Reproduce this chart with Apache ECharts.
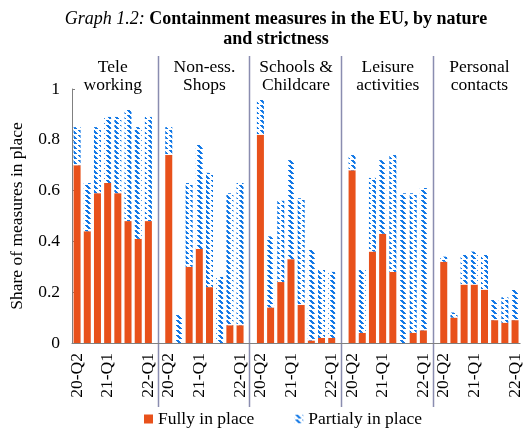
<!DOCTYPE html>
<html>
<head>
<meta charset="utf-8">
<script src="https://cdn.jsdelivr.net/npm/echarts@6/dist/echarts.min.js"></script>
<style>
html, body { margin: 0; padding: 0; background: #fff; }
#main { width: 524px; height: 428px; }
</style>
</head>
<body>
<div id="main"></div>
<script>
var groups = ['Tele\nworking', 'Non-ess.\nShops', 'Schools &\nChildcare', 'Leisure\nactivities', 'Personal\ncontacts'];
var quarters = ['20-Q2', '20-Q3', '20-Q4', '21-Q1', '21-Q2', '21-Q3', '21-Q4', '22-Q1'];
var shownTicks = ['20-Q2', '21-Q1', '22-Q1'];

// share of measures fully in place, per group
var fullyTele = [0.70, 0.44, 0.59, 0.63, 0.59, 0.48, 0.41, 0.48];
var fullyShops = [0.74, 0, 0.30, 0.37, 0.22, 0, 0.07, 0.07];
var fullySchools = [0.82, 0.14, 0.24, 0.33, 0.15, 0.01, 0.02, 0.02];
var fullyLeisure = [0.68, 0.04, 0.36, 0.43, 0.28, 0, 0.04, 0.05];
var fullyContacts = [0.32, 0.10, 0.23, 0.23, 0.21, 0.09, 0.08, 0.09];

// share partially in place (stacked on top)
var partTele = [0.15, 0.19, 0.26, 0.26, 0.30, 0.44, 0.44, 0.41];
var partShops = [0.11, 0.11, 0.33, 0.41, 0.45, 0.26, 0.52, 0.56];
var partSchools = [0.14, 0.28, 0.32, 0.39, 0.42, 0.36, 0.27, 0.26];
var partLeisure = [0.06, 0.25, 0.29, 0.29, 0.46, 0.59, 0.55, 0.56];
var partContacts = [0.02, 0.02, 0.12, 0.13, 0.14, 0.08, 0.10, 0.12];

var FONT = '"Liberation Serif", "Times New Roman", serif';
var ORANGE = '#E8511B';
var BLUE = '#1479E6';

function flatten(lists) {
    var out = [];
    for (var g = 0; g < lists.length; g++) {
        if (g > 0) out.push(null);
        for (var i = 0; i < lists[g].length; i++) out.push(lists[g][i]);
    }
    return out;
}

var cats = [];
var gapIdx = [];
var groupMid = [];
for (var g = 0; g < groups.length; g++) {
    if (g > 0) {
        gapIdx.push(cats.length);
        cats.push('');
    }
    groupMid.push(cats.length + 3.5);
    for (var q = 0; q < quarters.length; q++) cats.push(quarters[q]);
}

var fullyData = flatten([fullyTele, fullyShops, fullySchools, fullyLeisure, fullyContacts]);
var partData = flatten([partTele, partShops, partSchools, partLeisure, partContacts]);

// hatched tile for the "partially" bars, drawn pixel by pixel so it stays crisp
var tile = document.createElement('canvas');
tile.width = 7;
tile.height = 5;
var ctx = tile.getContext('2d');
ctx.fillStyle = '#fff';
ctx.fillRect(0, 0, 7, 5);
ctx.fillStyle = BLUE;
for (var r = 0; r < 4; r++) ctx.fillRect(1 + r, r, 3, 1);

var chart = echarts.init(document.getElementById('main'));
chart.setOption({
    animation: false,
    title: {
        text: '{i|Graph 1.2:} {b|Containment measures in the EU, by nature}\n{b|and strictness}',
        left: 271,
        top: 4,
        textAlign: 'center',
        textStyle: {
            fontFamily: FONT,
            fontWeight: 'normal',
            lineHeight: 20,
            rich: {
                i: { fontFamily: FONT, fontStyle: 'italic', fontWeight: 'normal', fontSize: 18, color: '#000', lineHeight: 20 },
                b: { fontFamily: FONT, fontWeight: 'bold', fontSize: 18, color: '#000', lineHeight: 20 }
            }
        }
    },
    legend: {
        left: 139,
        top: 405,
        itemWidth: 9,
        itemHeight: 9,
        itemGap: 40,
        icon: 'rect',
        textStyle: { fontFamily: FONT, fontSize: 17.5, color: '#000' },
        data: ['Fully in place', 'Partialy in place']
    },
    grid: { left: 70, right: 2, top: 89, bottom: 85 },
    xAxis: {
        type: 'category',
        data: cats,
        axisTick: { show: false },
        axisLine: { lineStyle: { color: '#808080', width: 1 } },
        axisLabel: {
            rotate: 90,
            interval: 0,
            margin: 10,
            fontFamily: FONT,
            fontSize: 17.5,
            color: '#000',
            formatter: function(v) {
                return shownTicks.indexOf(v) >= 0 ? v : '';
            }
        }
    },
    yAxis: {
        type: 'value',
        min: 0,
        max: 1,
        interval: 0.2,
        name: 'Share of measures in place',
        nameLocation: 'middle',
        nameGap: 46,
        nameTextStyle: { fontFamily: FONT, fontSize: 17.5, color: '#000' },
        splitLine: { show: false },
        axisLine: { show: true, lineStyle: { color: '#808080' } },
        axisTick: { show: true, inside: true, length: 3, lineStyle: { color: '#808080' } },
        axisLabel: {
            fontFamily: FONT,
            fontSize: 17.5,
            color: '#000',
            margin: 12,
            formatter: function(v) { return String(Math.round(v * 10) / 10); }
        }
    },
    series: [{
        name: 'Fully in place',
        type: 'bar',
        stack: 'm',
        barWidth: 7,
        itemStyle: { color: ORANGE },
        data: fullyData
    }, {
        name: 'Partialy in place',
        type: 'bar',
        stack: 'm',
        barWidth: 7,
        itemStyle: { color: { image: tile, repeat: 'repeat' } },
        data: partData
    }]
});

// group separators and group titles placed from the category scale
var elems = [];
for (var k = 0; k < gapIdx.length; k++) {
    var px = Math.round(chart.convertToPixel({ xAxisIndex: 0 }, gapIdx[k])) - 1 + 0.5;
    elems.push({
        type: 'line',
        silent: true,
        shape: { x1: px, y1: 56, x2: px, y2: 407 },
        style: { stroke: '#8A8DB0', lineWidth: 1.5 }
    });
}
var step = chart.convertToPixel({ xAxisIndex: 0 }, 1) - chart.convertToPixel({ xAxisIndex: 0 }, 0);
for (var m = 0; m < groups.length; m++) {
    var cx = chart.convertToPixel({ xAxisIndex: 0 }, Math.floor(groupMid[m])) + step / 2;
    elems.push({
        type: 'text',
        silent: true,
        x: cx,
        y: 76,
        style: {
            text: groups[m],
            font: '17.5px ' + FONT,
            fill: '#000',
            align: 'center',
            verticalAlign: 'middle',
            lineHeight: 18
        }
    });
}
chart.setOption({ graphic: elems });
</script>
</body>
</html>
